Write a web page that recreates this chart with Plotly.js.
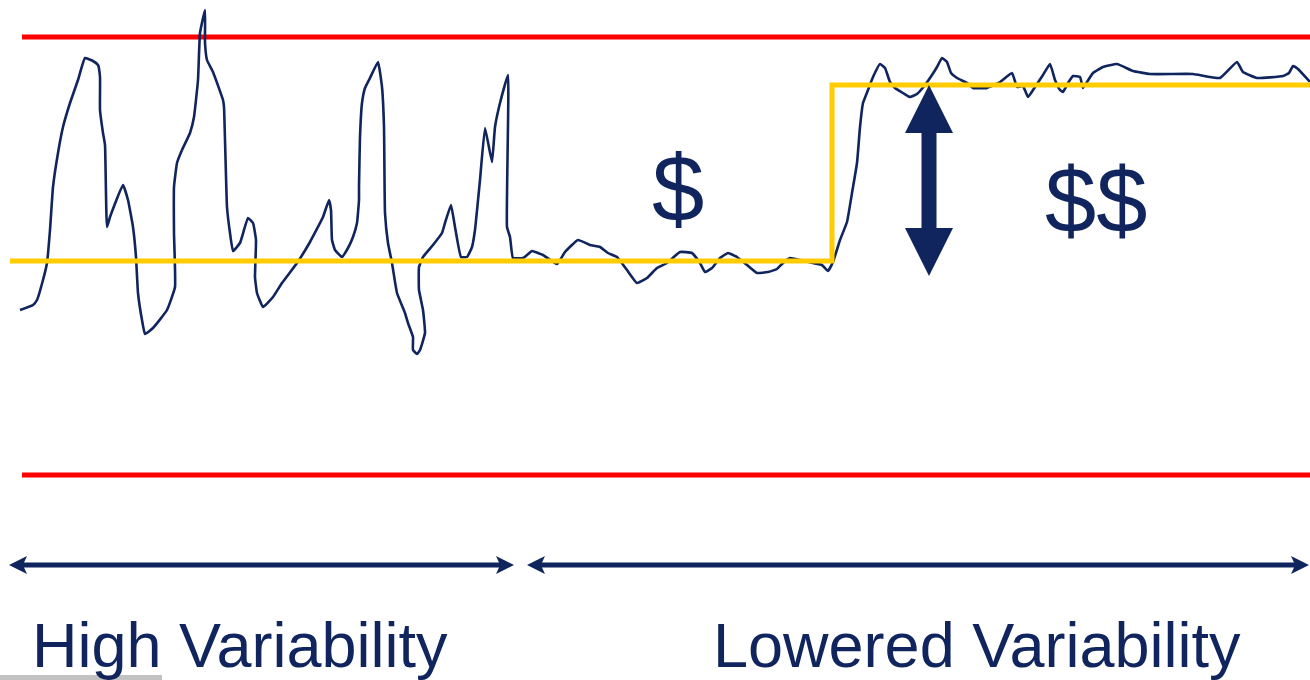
<!DOCTYPE html>
<html>
<head>
<meta charset="utf-8">
<script src="https://cdn.plot.ly/plotly-3.0.1.min.js"></script>
<style>
  html, body { margin: 0; padding: 0; background: #ffffff; }
  #chart { width: 1310px; height: 680px; }
</style>
</head>
<body>
<div id="chart"></div>
<script>
// Process signal over time (horizontal = time, vertical = output level, top is high)
const signalX = [20, 33, 37, 43, 47, 50, 53, 58, 63, 70, 78, 85, 93, 98, 100, 100, 103, 105, 107, 110,
  123, 128, 133, 136, 138, 142, 145, 153, 167, 175, 174, 174, 177, 182, 190, 194, 198, 200, 205, 205,
  207, 213, 223, 224, 227, 230, 233, 240, 248, 253, 256, 255, 257, 263, 273, 282, 297, 310, 323, 329,
  331, 332, 335, 342, 348, 353, 357, 359, 359, 360, 362, 365, 370, 378, 382, 384, 385, 388, 392, 397,
  405, 408, 413, 413, 417, 420, 425, 423, 419, 419, 423, 433, 442, 445, 451, 455, 461, 467, 472, 475,
  480, 485, 492, 495, 500, 508, 507, 510, 513, 523, 527, 532, 543, 557, 565, 578, 590, 600, 608, 617,
  627, 637, 647, 657, 667, 680, 692, 700, 705, 712, 720, 728, 737, 747, 757, 768, 777, 783, 790, 800,
  813, 822, 828, 833, 840, 847, 852, 857, 860, 863, 868, 873, 880, 885, 890, 895, 903, 910, 917, 925,
  932, 937, 942, 947, 951, 957, 967, 973, 987, 1000, 1012, 1017, 1023, 1028, 1035, 1043, 1050, 1055, 1060, 1063,
  1068, 1073, 1080, 1083, 1087, 1093, 1103, 1117, 1133, 1150, 1193, 1220, 1237, 1243, 1257, 1283, 1289, 1293, 1298, 1310];
const signalY = [310, 305, 300, 280, 263, 230, 187, 153, 127, 103, 80, 58, 61, 65, 77, 110, 133, 145, 227, 217,
  185, 200, 227, 257, 293, 320, 334, 328, 310, 287, 233, 187, 163, 150, 133, 117, 80, 33, 10, 43,
  60, 72, 100, 107, 207, 233, 251, 243, 218, 223, 240, 277, 293, 307, 297, 283, 263, 242, 217, 200,
  210, 240, 250, 257, 248, 237, 223, 200, 187, 137, 103, 88, 78, 62, 87, 127, 213, 243, 263, 293,
  313, 323, 337, 350, 354, 350, 333, 310, 290, 267, 257, 245, 233, 223, 205, 227, 257, 257, 247, 230,
  180, 128, 162, 127, 103, 75, 227, 237, 258, 258, 255, 251, 255, 264, 252, 240, 245, 247, 253, 257,
  270, 283, 278, 268, 263, 252, 253, 263, 272, 268, 258, 253, 257, 265, 273, 272, 269, 263, 258, 260,
  263, 265, 271, 262, 240, 222, 193, 163, 127, 103, 90, 77, 64, 68, 82, 88, 93, 97, 94, 85,
  75, 67, 58, 62, 73, 78, 83, 88, 88, 82, 73, 87, 86, 97, 87, 75, 64, 80, 90, 92,
  83, 76, 77, 88, 82, 73, 67, 64, 71, 74, 74, 78, 62, 72, 78, 76, 73, 66, 69, 82];

// Control limits
const limitX = [22, 1310];
const upperLimit = [37, 37];
const lowerLimit = [475, 475];

// Process mean before and after the improvement
const meanX = [10, 832, 832, 1310];
const meanY = [261, 261, 85, 85];

// Period labels and the gain labels
const periodLabels = ['High Variability', 'Lowered Variability'];
const gainLabels = ['$', '$$'];

const navy = '#10245e';

const traces = [
  { x: limitX, y: upperLimit, mode: 'lines', line: { color: '#ff0000', width: 5 }, hoverinfo: 'skip' },
  { x: limitX, y: lowerLimit, mode: 'lines', line: { color: '#ff0000', width: 5 }, hoverinfo: 'skip' },
  { x: signalX, y: signalY, mode: 'lines', line: { color: navy, width: 2.6, shape: 'spline', smoothing: 0.35 }, hoverinfo: 'skip' },
  { x: meanX, y: meanY, mode: 'lines', line: { color: '#ffcc00', width: 5 }, hoverinfo: 'skip' }
];

// Horizontal double-headed arrow outline between x1 and x2 at height y
function hArrow(x1, x2, y) {
  const L = 18, H = 9, N = 3, W = 2.6;
  return 'M' + x1 + ',' + y +
    ' L' + (x1 + L) + ',' + (y - H) +
    ' L' + (x1 + L - N) + ',' + (y - W) +
    ' L' + (x2 - L + N) + ',' + (y - W) +
    ' L' + (x2 - L) + ',' + (y - H) +
    ' L' + x2 + ',' + y +
    ' L' + (x2 - L) + ',' + (y + H) +
    ' L' + (x2 - L + N) + ',' + (y + W) +
    ' L' + (x1 + L - N) + ',' + (y + W) +
    ' L' + (x1 + L) + ',' + (y + H) + ' Z';
}

// Vertical double-headed arrow showing the shift of the mean
function vArrow(x, yTop, yBot) {
  const L = 48, H = 24, W = 7.5;
  return 'M' + x + ',' + yTop +
    ' L' + (x + H) + ',' + (yTop + L) +
    ' L' + (x + W) + ',' + (yTop + L) +
    ' L' + (x + W) + ',' + (yBot - L) +
    ' L' + (x + H) + ',' + (yBot - L) +
    ' L' + x + ',' + yBot +
    ' L' + (x - H) + ',' + (yBot - L) +
    ' L' + (x - W) + ',' + (yBot - L) +
    ' L' + (x - W) + ',' + (yTop + L) +
    ' L' + (x - H) + ',' + (yTop + L) + ' Z';
}

const shapes = [
  { type: 'path', xref: 'x', yref: 'y', path: hArrow(9, 514, 565), fillcolor: navy, line: { width: 0 }, layer: 'above' },
  { type: 'path', xref: 'x', yref: 'y', path: hArrow(527, 1309, 565), fillcolor: navy, line: { width: 0 }, layer: 'above' },
  { type: 'path', xref: 'x', yref: 'y', path: vArrow(929, 85, 276), fillcolor: navy, line: { width: 0 }, layer: 'above' },
  { type: 'rect', xref: 'x', yref: 'y', x0: 0, x1: 162, y0: 675, y1: 681, fillcolor: '#c2c2c2', line: { width: 0 }, layer: 'below' }
];

const font = 'Liberation Sans, Arial, sans-serif';
const annotations = [
  { x: 30, y: 645, xref: 'x', yref: 'y', xanchor: 'left', yanchor: 'middle', showarrow: false,
    text: periodLabels[0], font: { family: font, size: 63, color: navy } },
  { x: 711, y: 645, xref: 'x', yref: 'y', xanchor: 'left', yanchor: 'middle', showarrow: false,
    text: periodLabels[1], font: { family: font, size: 63, color: navy } },
  { x: 678, y: 188, xref: 'x', yref: 'y', xanchor: 'center', yanchor: 'middle', showarrow: false,
    text: gainLabels[0], font: { family: font, size: 94, color: navy } },
  { x: 1096, y: 200, xref: 'x', yref: 'y', xanchor: 'center', yanchor: 'middle', showarrow: false,
    text: gainLabels[1], font: { family: font, size: 92, color: navy } }
];

const layout = {
  width: 1310, height: 680,
  margin: { l: 0, r: 0, t: 0, b: 0, pad: 0 },
  paper_bgcolor: '#ffffff', plot_bgcolor: '#ffffff',
  showlegend: false,
  xaxis: { range: [0, 1310], visible: false, fixedrange: true },
  yaxis: { range: [680, 0], visible: false, fixedrange: true },
  shapes: shapes,
  annotations: annotations
};

Plotly.newPlot('chart', traces, layout, { staticPlot: true, displayModeBar: false });
</script>
</body>
</html>
